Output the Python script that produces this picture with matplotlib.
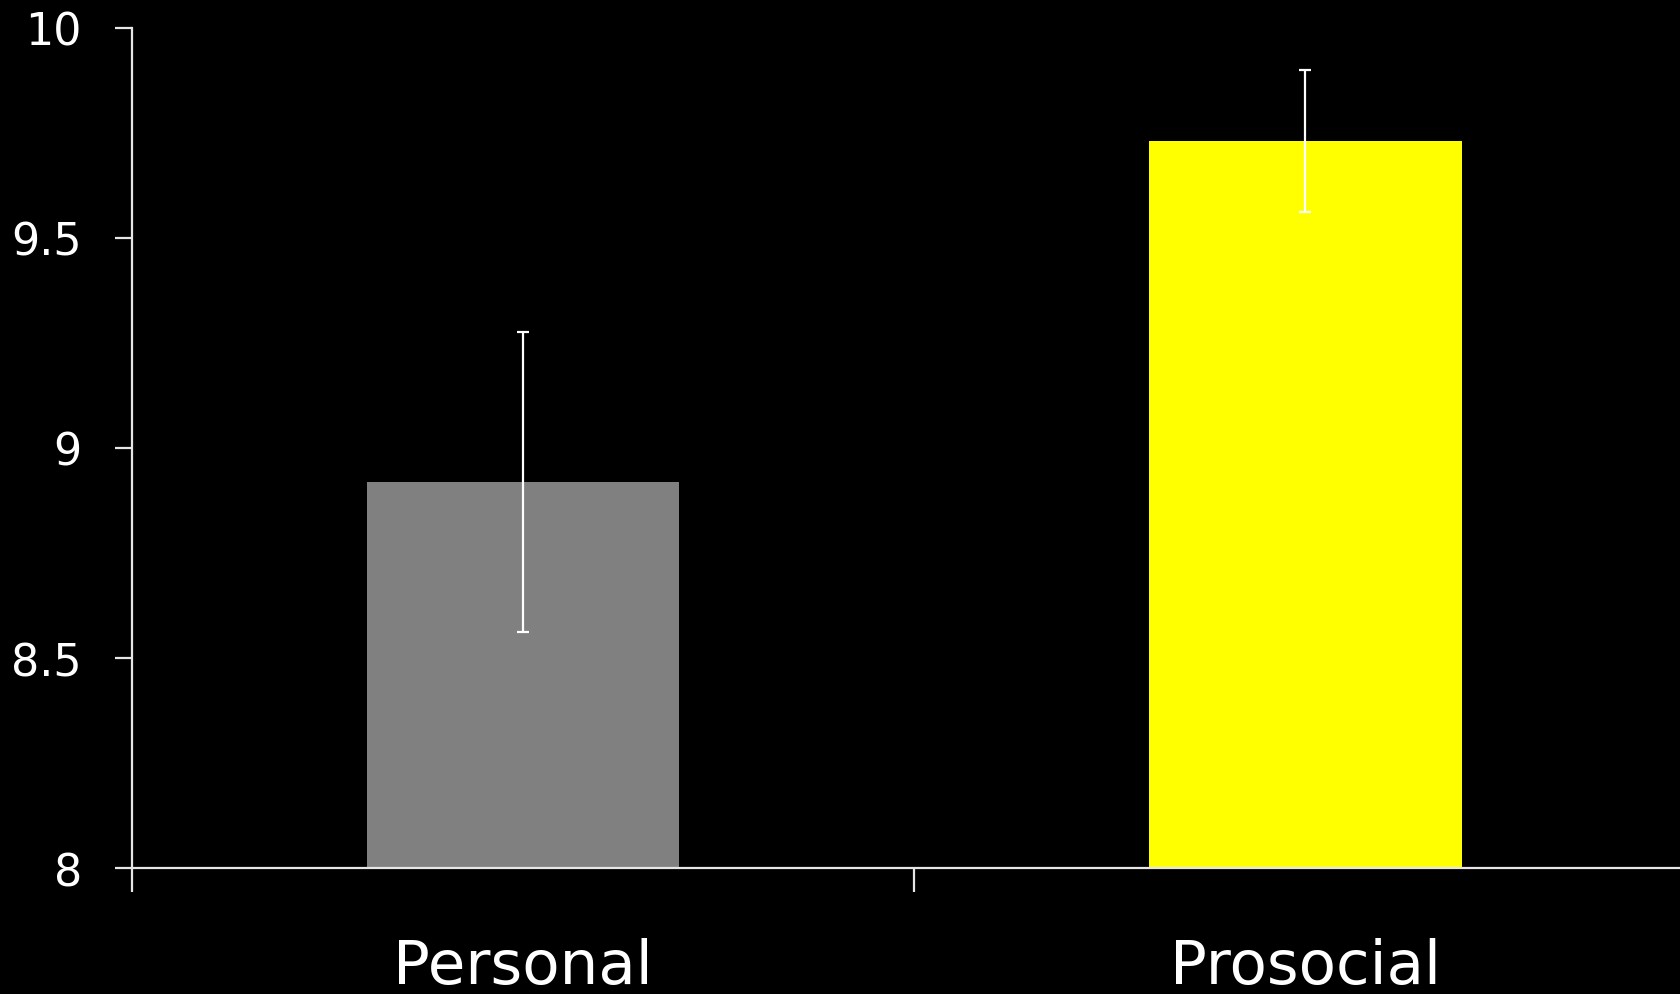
import matplotlib
matplotlib.use('Agg')
import matplotlib.pyplot as plt

# bar chart: mean rating per condition with error bars
conditions = ['Personal', 'Prosocial']
means = [8.92, 9.73]
errors = [0.357, 0.169]
bar_colors = ['#808080', '#ffff00']
yticks = [8, 8.5, 9, 9.5, 10]
ytick_labels = ['8', '8.5', '9', '9.5', '10']

plt.rcParams['font.family'] = ['DejaVu Sans']

fig = plt.figure(figsize=(16.81, 9.95), dpi=100, facecolor='black')
ax = fig.add_axes([0.0785, 0.1266, 0.9305, 0.8443])
ax.set_facecolor('black')

pos = list(range(len(conditions)))
ax.bar(pos, [m - 8 for m in means], bottom=8, width=0.40, color=bar_colors, zorder=2)
ax.errorbar(pos, means, yerr=errors, fmt='none', ecolor='white',
            elinewidth=1.6, capsize=4.5, capthick=1.6, zorder=3)

ax.set_ylim(8, 10)
ax.set_xlim(-0.5, 1.5)

ax.set_yticks(yticks)
ax.set_yticklabels(ytick_labels)

# category boundaries as tick marks, names centred underneath
ax.set_xticks([-0.5, 0.5])
ax.set_xticklabels(['', ''])
ax.set_xticks(pos, minor=True)
ax.set_xticklabels(conditions, minor=True)

axis_col = '#e6e6e6'
for side in ['top', 'right']:
    ax.spines[side].set_visible(False)
for side in ['left', 'bottom']:
    ax.spines[side].set_color(axis_col)
    ax.spines[side].set_linewidth(1.6)

ax.tick_params(axis='y', direction='out', length=12, width=1.6, color=axis_col,
               labelcolor='white', labelsize=32, pad=24)
ax.tick_params(axis='x', which='major', direction='out', length=17, width=1.6,
               color=axis_col)
ax.tick_params(axis='x', which='minor', length=0, labelcolor='white',
               labelsize=44, pad=50)

fig.savefig('out.png', dpi=100, facecolor='black')
